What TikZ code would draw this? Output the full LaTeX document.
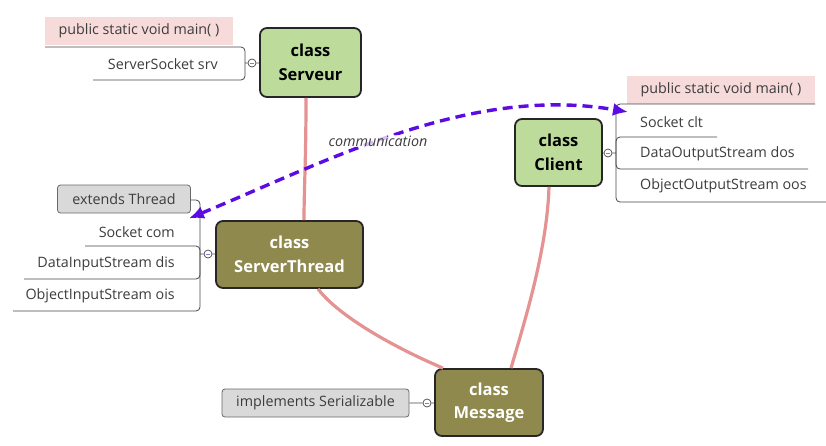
\documentclass[tikz,border=0pt]{standalone}
\usepackage{fontspec}
\setmainfont{Open Sans}
\usetikzlibrary{arrows.meta,positioning,calc}
\definecolor{classgreen}{RGB}{189,220,155}
\definecolor{classolive}{RGB}{143,137,78}
\definecolor{boxedge}{RGB}{38,38,38}
\definecolor{mainpink}{RGB}{247,218,218}
\definecolor{superfill}{RGB}{217,217,217}
\definecolor{superedge}{RGB}{105,105,105}
\definecolor{textgray}{RGB}{60,60,60}
\definecolor{branchgray}{RGB}{70,70,70}
\definecolor{linkpink}{RGB}{229,146,146}
\definecolor{commpurple}{RGB}{92,12,226}
\definecolor{minusblue}{RGB}{120,130,220}

\begin{document}
\begin{tikzpicture}[
  x=1pt, y=-1pt,
  every node/.style={font=\fontsize{14.3}{17}\selectfont, text=textgray, inner sep=0pt},
  classbox/.style={draw=boxedge, line width=1.8pt, rounded corners=7pt, align=center, fill=classgreen,
    text=black, font=\fontsize{16.5}{23.5}\selectfont\bfseries},
  threadbox/.style={classbox, fill=classolive, text=white},
  mainbox/.style={fill=mainpink, minimum width=188pt, minimum height=28pt},
  superbox/.style={draw=superedge, fill=superfill, line width=0.8pt, rounded corners=3pt, minimum height=28pt},
  toggle/.style={circle, draw=branchgray, fill=white, line width=0.7pt, minimum size=8pt,
    path picture={\draw[minusblue, line width=0.8pt] ([xshift=-1.6pt]path picture bounding box.center) -- ([xshift=1.6pt]path picture bounding box.center);}},
  branch/.style={draw=branchgray, line width=0.8pt, rounded corners=4pt},
  link/.style={draw=linkpink, line width=3.2pt},
  comm/.style={draw=commpurple, line width=3.4pt, dash pattern=on 10pt off 6pt,
    {Latex[length=15pt,width=13pt]}-{Latex[length=15pt,width=13pt]}}
]
\useasboundingbox (0,0) rectangle (826,445);

\node[classbox, minimum width=101pt, minimum height=69pt] (serveur) at (310.5,62.5) {class\\Serveur};
\node[classbox, minimum width=87pt, minimum height=67pt] (client) at (558.5,152.5) {class\\Client};
\node[threadbox, minimum width=147pt, minimum height=67pt] (thread) at (289.5,254.5) {class\\ServerThread};
\node[threadbox, minimum width=108pt, minimum height=67pt] (message) at (489,402.5) {class\\Message};

\node[toggle] (srvtog) at (252,63) {};
\node[toggle] (clttog) at (608,153) {};
\node[toggle] (thrtog) at (208,254) {};
\node[toggle] (msgtog) at (427,403) {};

\node[mainbox] (srvmain) at (139,31) {public static void main( )};
\node[anchor=east] (srvsock) at (218,64) {ServerSocket srv};
\coordinate (srvjoin) at (245,63);
\draw[branch] (45,47) -- (245,47) -- (245,80) -- (93,80);
\draw[branch] (srvjoin) -- (srvtog) -- (serveur);

\node[mainbox] (cltmain) at (721,89.5) {public static void main( )};
\node[anchor=west] (cltsock) at (640,122) {Socket clt};
\node[anchor=west] (cltdos) at (640,154) {DataOutputStream dos};
\node[anchor=west] (cltoos) at (640,186) {ObjectOutputStream oos};
\coordinate (cltjoin) at (616,153);
\draw[branch] (815,104) -- (616,104) -- (616,202) -- (826,202);
\draw[branch] (717,137) -- (616,137) -- (616,169) -- (808,169);
\draw[branch] (cltjoin) -- (clttog) -- (client);

\node[superbox, minimum width=133pt] (extthread) at (124,199) {extends Thread};
\node[anchor=east] (thrsock) at (175,232) {Socket com};
\node[anchor=east] (thrdis) at (175,264) {DataInputStream dis};
\node[anchor=east] (throis) at (175,296) {ObjectInputStream ois};
\coordinate (thrjoin) at (200,254);
\draw[branch] (extthread.east |- 0,200) -- (200,200) -- (200,311) -- (13,311);
\draw[branch] (85,246) -- (200,246) -- (200,279) -- (24,279);
\draw[branch] (thrjoin) -- (thrtog) -- (thread);

\node[superbox, minimum width=187pt] (serial) at (315.5,403) {implements Serializable};
\draw[branch] (serial) -- (msgtog) -- (message);

\draw[link] ([xshift=-4.5pt]serveur.south) .. controls (306,160) and (304,190) .. ([xshift=14.5pt]thread.north);
\draw[link] ([xshift=28.5pt]thread.south) .. controls (340,318) and (400,350) .. ([xshift=-46pt]message.north);
\draw[link] ([xshift=-9.5pt]client.south) .. controls (547,250) and (525,320) .. ([xshift=22pt]message.north);

\coordinate (cltin) at (628,112);
\draw[comm] ([shift={(-2pt,-5pt)}]extthread.south east) .. controls (330,160) and (470,85) .. (cltin);
\node[font=\fontsize{14.3}{17}\selectfont\itshape, fill=white, fill opacity=0.75, text opacity=1, inner sep=1pt] (commlabel) at (378,141) {communication};
\end{tikzpicture}
\end{document}
